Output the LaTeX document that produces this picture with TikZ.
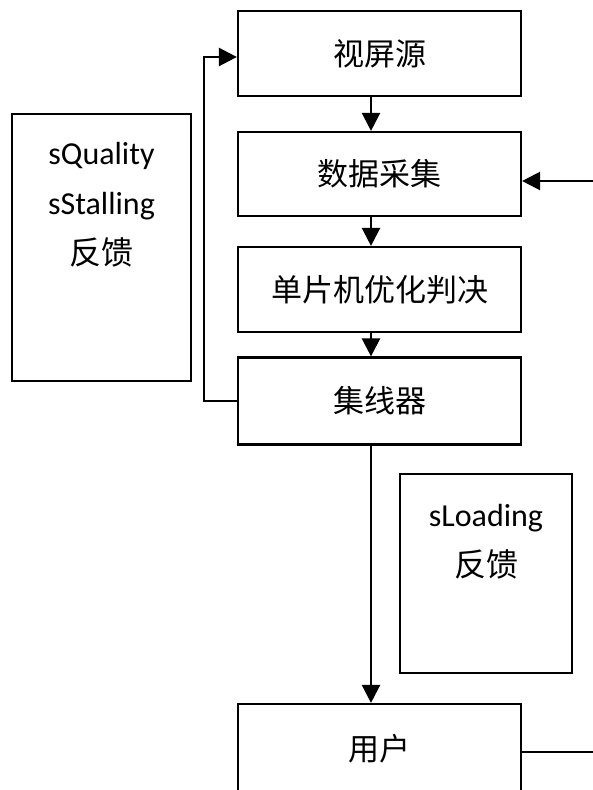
\documentclass[tikz,border=0pt]{standalone}
\usepackage{fontspec}
\setmainfont{Carlito}
\newfontfamily\cjk{Noto Sans CJK SC}
\usetikzlibrary{arrows.meta}
\tikzset{
  stage/.style={draw, line width=2.2pt, minimum width=283pt, inner sep=0pt,
    font=\cjk\fontsize{31}{36}\selectfont},
  fbbox/.style={draw, line width=2.2pt, inner sep=0pt},
  fbtext/.style={align=center, inner sep=0pt, font=\fontsize{32}{50}\selectfont},
  link/.style={line width=2.4pt, -{Triangle[length=18pt,width=18pt]}},
  wire/.style={line width=2.4pt}
}
\begin{document}
\begin{tikzpicture}[x=1pt,y=-1pt]
  \useasboundingbox (0,0) rectangle (593,790);
  \clip (0,0) rectangle (593,790);

  % main chain of stages
  \node[stage, minimum height=85pt] (src)  at (379.5,53.5) {视屏源};
  \node[stage, minimum height=84pt] (acq)  at (379.5,174)  {数据采集};
  \node[stage, minimum height=85pt] (mcu)  at (379.5,289.5) {单片机优化判决};
  \node[stage, minimum height=87pt] (hub)  at (379.5,401) {集线器};
  \node[stage, minimum height=96pt] (user) at (379.5,752)  {\raisebox{9pt}{用户}};

  % feedback boxes
  \node[fbbox, minimum width=179pt, minimum height=267pt] (fbq) at (101.5,247.5) {};
  \node[fbtext, anchor=north] (fbqtext) at (101.5,142)
    {sQuality\\sStalling\\{\cjk 反馈}};
  \node[fbbox, minimum width=172pt, minimum height=199pt] (fbl) at (486,573.5) {};
  \node[fbtext, anchor=north] (fbltext) at (486,504)
    {sLoading\\{\cjk 反馈}};

  % signal column, loop column and outside ends
  \coordinate (spine) at (371,0);
  \coordinate (loopx) at (204,0);
  \coordinate (inR)  at (593,181);
  \coordinate (outR) at (593,752);

  % connectors
  \draw[link] (src.south -| spine) -- (acq.north -| spine);
  \draw[link] (acq.south -| spine) -- (mcu.north -| spine);
  \draw[link] (mcu.south -| spine) -- (hub.north -| spine);
  \draw[link] (hub.south -| spine) -- (user.north -| spine);
  \draw[link] (hub.west) -- (hub.west -| loopx) |- ([yshift=-3.5pt]src.west);
  \draw[link] (inR) -- (inR -| acq.east);
  \draw[wire] (user.east) -- (outR);
\end{tikzpicture}
\end{document}
